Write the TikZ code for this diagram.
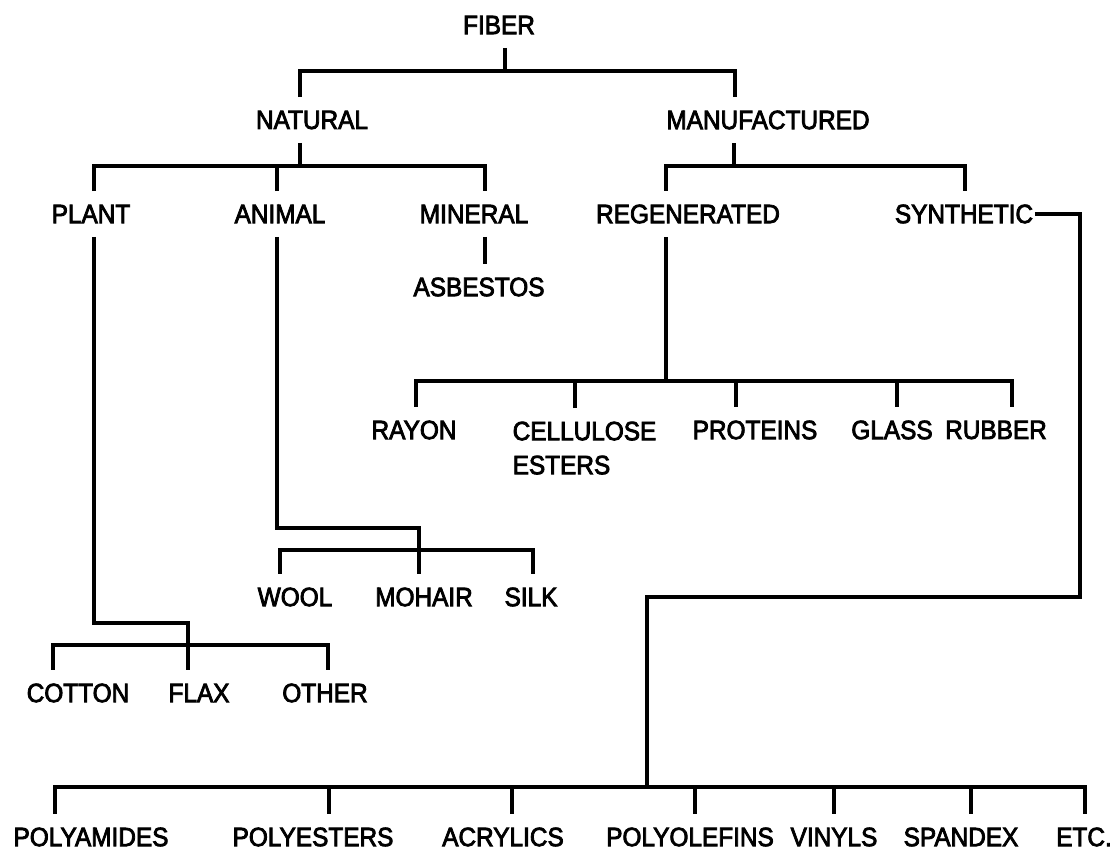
\documentclass[tikz,border=0pt]{standalone}
\usepackage{fontspec}
\setmainfont{Liberation Sans}[FakeStretch=0.92, FakeBold=3]

\begin{document}
\begin{tikzpicture}[x=1pt, y=-1pt, line width=3.4pt,
    lbl/.style={font=\fontsize{26.5}{34}\selectfont, inner xsep=0pt, inner ysep=12pt}]
  \useasboundingbox (0,0) rectangle (1120,851);

  % Top levels
  \node[lbl] (fiber)   at (499,25)  {FIBER};
  \node[lbl] (natural) at (312,120) {NATURAL};
  \node[lbl] (manuf)   at (768,120) {MANUFACTURED};
  \node[lbl] (plant)   at (91,214)  {PLANT};
  \node[lbl] (animal)  at (280,214) {ANIMAL};
  \node[lbl] (mineral) at (474,214) {MINERAL};
  \node[lbl] (regen)   at (688,214) {REGENERATED};
  \node[lbl] (synth)   at (964,214) {SYNTHETIC};
  \node[lbl] (asbestos) at (479,287) {ASBESTOS};

  % Regenerated kinds
  \node[lbl] (rayon)    at (414,430) {RAYON};
  \node[lbl, align=left, anchor=north west] (cellu) at (511,408) {CELLULOSE\\ESTERS};
  \node[lbl] (proteins) at (755,430) {PROTEINS};
  \node[lbl] (glass)    at (892,430) {GLASS};
  \node[lbl] (rubber)   at (996,430) {RUBBER};

  % Animal and plant kinds
  \node[lbl] (wool)   at (295,597) {WOOL};
  \node[lbl] (mohair) at (424,597) {MOHAIR};
  \node[lbl] (silk)   at (531,597) {SILK};
  \node[lbl] (cotton) at (78,693)  {COTTON};
  \node[lbl] (flax)   at (199,693) {FLAX};
  \node[lbl] (other)  at (325,693) {OTHER};

  % Synthetic kinds
  \node[lbl] (polyamides)  at (91,837)   {POLYAMIDES};
  \node[lbl] (polyesters)  at (313,837)  {POLYESTERS};
  \node[lbl] (acrylics)    at (503,837)  {ACRYLICS};
  \node[lbl] (polyolefins) at (690,837)  {POLYOLEFINS};
  \node[lbl] (vinyls)      at (834,837)  {VINYLS};
  \node[lbl] (spandex)     at (961,837)  {SPANDEX};
  \node[lbl] (etc)         at (1084,837) {ETC.};

  % Junctions
  \coordinate (j0) at (505,71);
  \coordinate (j1) at (300,166);
  \coordinate (j2) at (734,166);
  \coordinate (j3) at (666,381);
  \coordinate (j4) at (419,528);
  \coordinate (j5) at (419,550);
  \coordinate (j6) at (188,623);
  \coordinate (j7) at (188,645);
  \coordinate (j8) at (1080,597);
  \coordinate (j9) at (647,787);

  % Fiber
  \draw ([xshift=6]fiber.south) -- (j0);
  \draw ([xshift=-12]natural.north) |- (j0) -| ([xshift=-33]manuf.north);

  % Natural
  \draw ([xshift=-12]natural.south) -- (j1);
  \draw ([xshift=3]plant.north) |- (j1) -| ([xshift=11]mineral.north);
  \draw ([xshift=-3]animal.north) |- (j1);
  \draw ([xshift=11]mineral.south) -- ([xshift=6]asbestos.north);

  % Manufactured
  \draw ([xshift=-34]manuf.south) -- (j2);
  \draw ([xshift=-22]regen.north) |- (j2) -| ([xshift=1]synth.north);

  % Regenerated
  \draw ([xshift=-22]regen.south) -- (j3);
  \draw ([xshift=2]rayon.north) |- (j3) -| ([xshift=16]rubber.north);
  \draw ([xshift=64]cellu.north west) |- (j3);
  \draw ([xshift=-19]proteins.north) |- (j3);
  \draw ([xshift=5]glass.north) |- (j3);

  % Animal
  \draw ([xshift=-3]animal.south) |- (j4) -- ([xshift=-5]mohair.north);
  \draw ([xshift=-15]wool.north) |- (j5) -| ([xshift=2]silk.north);

  % Plant
  \draw ([xshift=3]plant.south) |- (j6) -- ([xshift=-11]flax.north);
  \draw ([xshift=-25]cotton.north) |- (j7) -| ([xshift=3]other.north);

  % Synthetic
  \draw (synth.east) -| (j8) -| (j9);
  \draw ([xshift=-36]polyamides.north) |- (j9) -| ([xshift=1]etc.north);
  \draw ([xshift=16]polyesters.north) |- (j9);
  \draw ([xshift=9]acrylics.north) |- (j9);
  \draw ([xshift=5]polyolefins.north) |- (j9);
  \draw (vinyls.north) |- (j9);
  \draw ([xshift=10]spandex.north) |- (j9);
\end{tikzpicture}
\end{document}
